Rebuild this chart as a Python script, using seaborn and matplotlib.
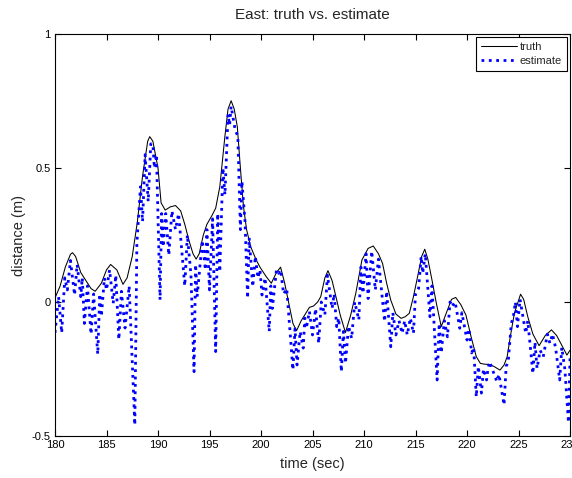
import matplotlib
matplotlib.use("Agg")
import matplotlib.pyplot as plt
import seaborn as sns
import pandas as pd

truth_t = [180.0, 180.5, 181.0, 181.5, 181.7, 182.0, 182.5, 183.0, 183.5, 183.9,
           184.5, 185.0, 185.4, 186.0, 186.6, 187.0, 187.5, 188.0, 188.5, 189.0,
           189.2, 189.5, 190.0, 190.3, 190.7, 191.2, 191.7, 192.2, 192.6, 193.0,
           193.4, 193.7, 194.0, 194.4, 194.75, 195.2, 195.6, 196.0, 196.5, 196.8,
           197.1, 197.4, 197.7, 198.0, 198.3, 198.6, 199.0, 199.5, 199.9, 200.5,
           201.0, 201.5, 201.9, 202.3, 202.7, 203.1, 203.45, 203.9, 204.3, 204.7,
           205.1, 205.5, 205.8, 206.2, 206.5, 206.9, 207.2, 207.7, 208.2, 208.7,
           209.2, 209.8, 210.4, 210.9, 211.4, 211.8, 212.2, 212.6, 213.1, 213.6,
           214.0, 214.4, 214.8, 215.2, 215.6, 215.9, 216.2, 216.6, 217.0, 217.5,
           218.0, 218.5, 218.9, 219.4, 219.9, 220.4, 220.9, 221.3, 221.7, 222.1,
           222.6, 223.2, 223.6, 223.9, 224.2, 224.6, 225.2, 225.5, 225.9, 226.4,
           227.0, 227.6, 228.2, 228.7, 229.1, 229.7, 230.0]
truth_v = [0.015, 0.06, 0.13, 0.178, 0.184, 0.17, 0.11, 0.08, 0.05, 0.04,
           0.07, 0.12, 0.14, 0.12, 0.066, 0.09, 0.17, 0.30, 0.47, 0.60,
           0.617, 0.60, 0.50, 0.37, 0.343, 0.355, 0.36, 0.34, 0.29, 0.23,
           0.18, 0.16, 0.18, 0.25, 0.29, 0.32, 0.35, 0.43, 0.62, 0.72,
           0.751, 0.72, 0.654, 0.50, 0.356, 0.27, 0.206, 0.16, 0.13, 0.095,
           0.07, 0.11, 0.13, 0.07, -0.005, -0.08, -0.107, -0.07, -0.045, -0.02,
           -0.015, 0.0, 0.02, 0.09, 0.117, 0.08, 0.032, -0.05, -0.114, -0.05,
           0.032, 0.157, 0.20, 0.209, 0.18, 0.144, 0.07, 0.007, -0.045, -0.061,
           -0.055, -0.042, 0.02, 0.094, 0.17, 0.197, 0.16, 0.082, 0.0, -0.092,
           -0.04, 0.01, 0.017, -0.01, -0.049, -0.13, -0.204, -0.229, -0.232, -0.233,
           -0.24, -0.254, -0.235, -0.204, -0.13, -0.042, 0.029, 0.01, -0.055, -0.12,
           -0.163, -0.125, -0.104, -0.125, -0.154, -0.198, -0.18]

est_t = [180.0, 180.35, 180.65, 180.95, 181.2, 181.5, 181.9, 182.15, 182.5, 182.65,
         182.85, 183.15, 183.5, 183.75, 184.15, 184.35, 184.5, 184.8, 185.0, 185.3,
         185.65, 185.9, 186.2, 186.45, 186.8, 187.2, 187.75, 187.95, 188.3, 188.5,
         188.75, 189.05, 189.3, 189.5, 189.65, 189.85, 190.2, 190.35, 190.5, 190.75,
         191.05, 191.35, 191.7, 192.0, 192.6, 192.85, 193.2, 193.5, 193.65, 193.8,
         194.3, 194.6, 194.75, 195.0, 195.3, 195.6, 195.8, 196.0, 196.3, 196.5,
         196.8, 196.95, 197.1, 197.5, 197.75, 198.0, 198.15, 198.45, 198.7, 198.85,
         199.2, 199.45, 199.7, 199.9, 200.1, 200.4, 200.8, 200.95, 201.1, 201.5,
         201.7, 201.9, 202.2, 202.5, 203.1, 203.3, 203.5, 203.8, 204.1, 204.25,
         204.4, 204.7, 205.0, 205.3, 205.6, 205.85, 206.2, 206.45, 206.9, 207.1,
         207.35, 207.55, 207.8, 208.0, 208.2, 208.5, 208.8, 209.1, 209.5, 209.7,
         209.9, 210.2, 210.4, 210.75, 211.1, 211.4, 212.0, 212.2, 212.6, 212.8,
         213.1, 213.4, 213.7, 213.95, 214.2, 214.5, 214.8, 215.0, 215.3, 215.55,
         215.7, 215.95, 216.4, 216.6, 217.1, 217.3, 217.5, 217.8, 218.1, 218.35,
         218.5, 218.85, 219.3, 219.5, 220.0, 220.2, 220.45, 220.65, 220.9, 221.1,
         221.4, 221.6, 221.9, 222.05, 222.2, 222.45, 222.9, 223.1, 223.6, 223.8,
         224.0, 224.3, 224.5, 224.7, 224.9, 225.15, 225.7, 225.9, 226.4, 226.6,
         226.8, 227.1, 227.4, 227.8, 228.05, 228.3, 228.6, 229.0, 229.2, 229.5,
         229.85, 230.0]
est_v = [-0.115, 0.02, -0.115, 0.09, 0.045, 0.155, 0.026, 0.14, 0.02, 0.09,
         -0.08, 0.06, -0.12, 0.03, -0.195, 0.03, -0.054, 0.09, 0.045, 0.12,
         -0.005, 0.10, -0.14, 0.04, -0.097, 0.06, -0.459, 0.22, 0.43, 0.30,
         0.55, 0.375, 0.59, 0.59, 0.50, 0.55, 0.008, 0.33, 0.206, 0.33,
         0.175, 0.34, 0.27, 0.33, 0.06, 0.25, 0.10, -0.26, 0.14, 0.02,
         0.23, 0.12, 0.27, 0.045, 0.31, -0.185, 0.33, 0.113, 0.50, 0.40,
         0.70, 0.66, 0.73, 0.64, 0.62, 0.27, 0.45, 0.30, 0.014, 0.24,
         0.057, 0.17, 0.09, 0.12, 0.026, 0.09, -0.11, 0.06, -0.024, 0.12,
         0.107, 0.12, 0.03, 0.05, -0.253, -0.10, -0.235, -0.11, -0.172, -0.06,
         -0.098, -0.035, -0.123, -0.025, -0.154, 0.0, -0.048, 0.10, -0.024, 0.03,
         -0.092, -0.06, -0.26, -0.11, -0.229, -0.09, -0.136, 0.0, -0.067, 0.13,
         0.032, 0.18, 0.013, 0.19, 0.045, 0.16, -0.073, 0.04, -0.167, -0.04,
         -0.123, -0.07, -0.117, -0.07, -0.123, -0.06, -0.117, 0.03, 0.051, 0.17,
         0.107, 0.18, -0.055, 0.06, -0.291, -0.08, -0.19, -0.07, -0.13, 0.0,
         -0.018, 0.0, -0.098, -0.04, -0.142, -0.10, -0.19, -0.17, -0.354, -0.24,
         -0.34, -0.25, -0.291, -0.245, -0.223, -0.25, -0.297, -0.27, -0.384, -0.24,
         -0.223, -0.08, -0.055, 0.0, -0.092, 0.01, -0.117, -0.07, -0.267, -0.15,
         -0.248, -0.18, -0.205, -0.12, -0.154, -0.12, -0.17, -0.291, -0.17, -0.25,
         -0.45, -0.21]

x_ticks = [180, 185, 190, 195, 200, 205, 210, 215, 220, 225, 230]
y_ticks = [-0.5, 0, 0.5, 1]
y_tick_labels = ["-0.5", "0", "0.5", "1"]

sns.set_style("white")
plt.rcParams['font.family'] = ['Liberation Sans', 'DejaVu Sans']

fig = plt.figure(figsize=(5.72, 4.78), dpi=100)
ax = fig.add_axes([55 / 572, 1 - 436 / 478, (570 - 55) / 572, (436 - 34) / 478])

truth_df = pd.DataFrame({"t": truth_t, "v": truth_v})
est_df = pd.DataFrame({"t": est_t, "v": est_v})

sns.lineplot(data=truth_df, x="t", y="v", ax=ax, color="black", linewidth=0.75,
             label="truth", sort=False)
sns.lineplot(data=est_df, x="t", y="v", ax=ax, color="#0000ff", linewidth=2.0,
             linestyle=":", label="estimate", sort=False)

ax.set_xlim(180, 230)
ax.set_ylim(-0.5, 1)
ax.set_xticks(x_ticks)
ax.set_xticklabels([str(v) for v in x_ticks])
ax.set_yticks(y_ticks)
ax.set_yticklabels(y_tick_labels)
ax.tick_params(direction="in", length=4, width=0.8, labelsize=8, colors="black",
               top=True, right=True, bottom=True, left=True, pad=3)
for s in ax.spines.values():
    s.set_visible(True)
    s.set_color("black")
    s.set_linewidth(0.8)

ax.set_xlabel("time (sec)", fontsize=10.5, labelpad=5)
ax.set_ylabel("distance (m)", fontsize=10.5, labelpad=4)
ax.set_title("East: truth vs. estimate", fontsize=11, pad=11)

leg = ax.legend(loc="upper right", fontsize=8, frameon=True, fancybox=False,
                edgecolor="black", framealpha=1, handlelength=3.3,
                borderpad=0.45, labelspacing=0.3, handletextpad=0.2,
                borderaxespad=0.3)
leg.get_frame().set_linewidth(0.8)

fig.savefig("out.png", dpi=100)
